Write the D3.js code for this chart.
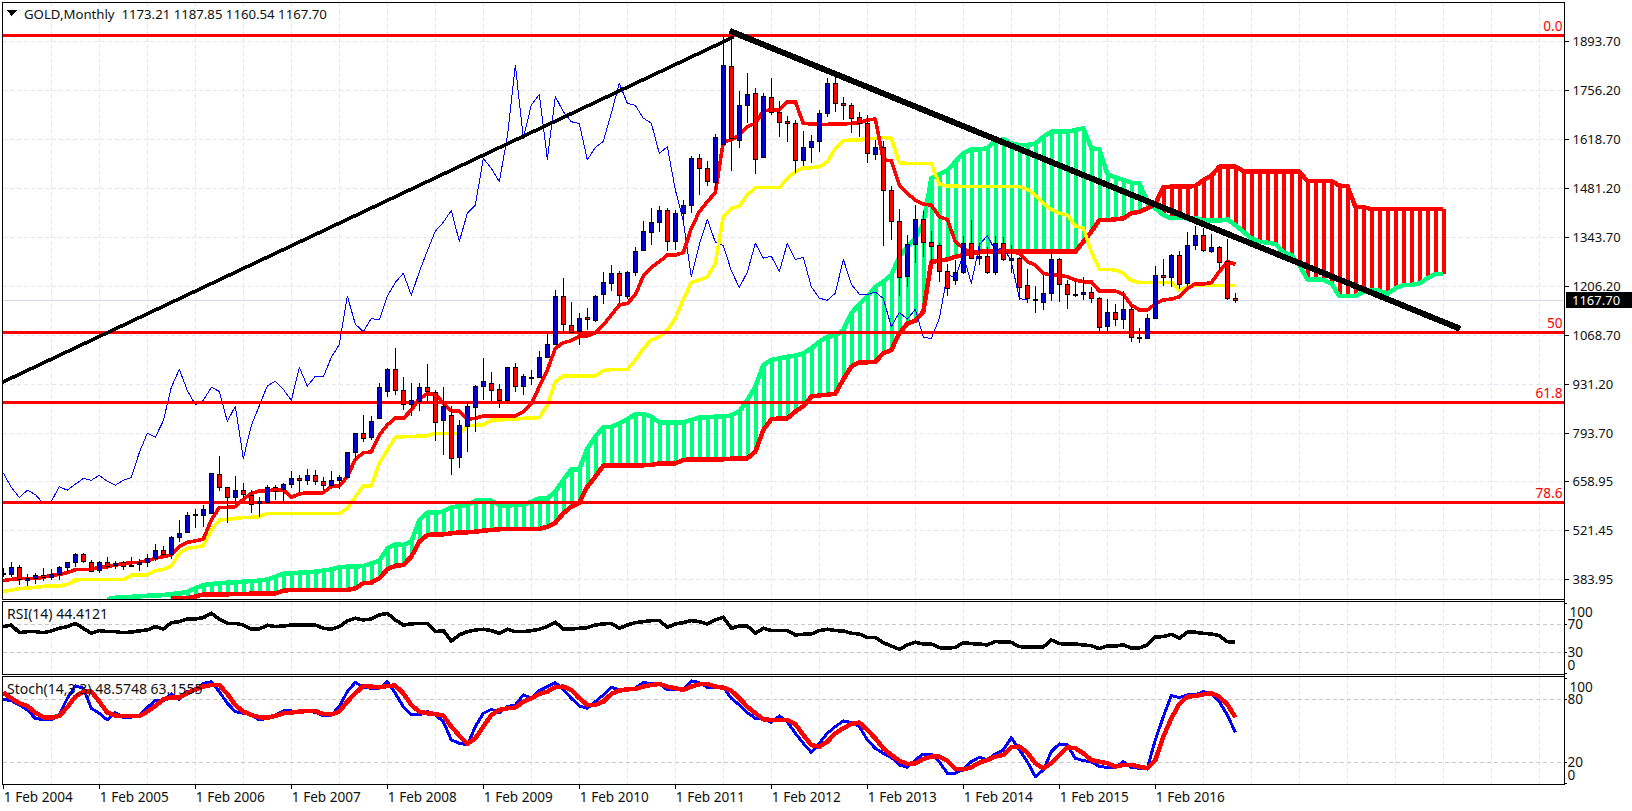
<!DOCTYPE html>
<html lang="en">
  <head>
    <meta charset="UTF-8" />
    <title>GOLD, Monthly</title>
    <script src="https://d3js.org/d3.v7.min.js"></script>
    <style>
      html,
      body {
        margin: 0;
        padding: 0;
        background: #fff;
        overflow: hidden;
      }

      text {
        font-family: "Noto Sans", Tahoma, sans-serif;
        font-size: 13.6px;
        fill: #111;
      }

      path,
      line,
      rect {
        shape-rendering: crispEdges;
      }
    </style>
  </head>
  <body>
    <svg id="chart" width="1632" height="811"></svg>

    <script>
      // Monthly bars, bar 0 = 1 Feb 2004
      const opens = [399,397,418,382,386,395,389,397,417,432,454,434,410,432,422,432,420,426,433,443,465,453,502,516,563,563,569,679,642,614,634,622,597,603,644,637,651,667,662,676,659,648,662,670,740,796,783,836,911,973,914,874,885,923,911,832,844,726,816,867,926,936,917,885,979,926,951,951,1007,1043,1179,1098,1079,1119,1112,1182,1215,1243,1181,1247,1308,1357,1386,1419,1332,1411,1433,1565,1537,1500,1606,1824,1618,1713,1748,1567,1737,1696,1669,1664,1559,1596,1613,1692,1776,1720,1714,1682,1664,1579,1598,1477,1389,1233,1324,1394,1330,1322,1250,1224,1245,1327,1284,1291,1247,1327,1281,1287,1209,1170,1163,1187,1282,1212,1184,1184,1189,1173,1093,1133,1114,1142,1063,1060,1116,1238,1231,1294,1214,1320,1349,1306,1317,1276,1173.21];
      const highs = [415,432,423,399,403,416,412,420,432,457,457,438,436,446,436,436,446,442,455,483,477,506,550,573,580,593,683,730,644,674,655,635,616,648,648,653,688,676,693,691,672,688,677,742,796,844,842,936,976,1032,951,934,934,988,915,923,869,831,881,928,1004,965,931,979,990,960,971,1025,1074,1196,1229,1162,1132,1145,1181,1247,1266,1248,1250,1316,1390,1425,1432,1425,1419,1448,1572,1577,1558,1634,1912,1920,1754,1806,1762,1748,1790,1726,1684,1673,1642,1631,1700,1790,1796,1737,1720,1696,1687,1617,1615,1488,1422,1350,1433,1418,1361,1328,1269,1280,1347,1392,1329,1316,1346,1344,1322,1289,1254,1207,1238,1308,1285,1224,1224,1231,1205,1175,1170,1157,1192,1149,1088,1129,1263,1282,1296,1305,1358,1376,1369,1352,1319,1338,1187.85];
      const lows = [391,391,368,365,371,380,382,382,405,419,429,408,403,412,412,410,418,408,419,436,449,442,490,513,528,532,569,633,541,595,607,569,558,601,607,599,639,630,649,649,635,637,638,667,715,770,775,835,897,901,859,842,855,878,773,734,678,697,740,798,887,883,864,878,911,901,929,948,1004,1043,1074,1074,1042,1084,1107,1157,1194,1156,1172,1235,1306,1322,1360,1306,1308,1381,1413,1463,1488,1477,1603,1530,1594,1664,1521,1565,1687,1626,1612,1525,1544,1553,1584,1680,1696,1672,1636,1626,1553,1561,1320,1336,1179,1205,1273,1289,1266,1219,1179,1210,1241,1282,1266,1241,1238,1278,1243,1168,1160,1130,1140,1166,1163,1142,1175,1168,1160,1076,1082,1095,1086,1051,1046,1057,1114,1207,1205,1198,1207,1308,1303,1301,1252,1168,1160.54];
      const closes = [402,418,384,387,395,389,398,418,432,454,434,410,432,422,429,420,424,433,443,465,453,502,513,564,566,580,682,642,614,634,622,597,603,644,634,651,667,662,676,659,648,662,670,740,794,783,829,923,973,914,874,886,923,911,827,870,723,816,871,927,940,917,886,979,926,954,952,1007,1043,1179,1100,1079,1116,1112,1179,1217,1243,1181,1247,1306,1361,1386,1419,1332,1411,1434,1565,1537,1500,1626,1827,1622,1715,1745,1563,1739,1696,1668,1663,1561,1596,1613,1692,1776,1720,1714,1678,1664,1579,1598,1477,1389,1233,1324,1394,1330,1320,1250,1203,1246,1327,1285,1291,1247,1327,1282,1287,1205,1173,1167,1187,1282,1212,1184,1183,1190,1172,1093,1133,1114,1142,1063,1060,1116,1238,1231,1294,1214,1322,1349,1306,1317,1276,1172,1167.7];

      // Ichimoku lines
      const tenkan = [380.2,384,385.8,385.8,385.8,389.6,395,398,402.7,411,412,412,417.6,419.5,424,428,430.7,431.7,436.4,443,447.6,453,476,488,492,497,550.5,586,586,587.9,608.5,625.3,631.9,632.8,634.7,634.7,614,623.5,627,627,627,645.9,645.9,672,720.7,739.4,741.3,789,817,836.7,835.8,859,892,904,904,877.9,857,856.4,833,835.8,842.4,842.4,842.4,842.4,842.4,854.5,876,924.7,971.4,1032,1048,1053.7,1066.8,1066.8,1076,1097.7,1125.8,1153.8,1158.5,1181.9,1235,1259.5,1275.4,1294,1294,1300.7,1369,1415.7,1443.7,1469,1612,1616.8,1630.8,1654,1663.6,1699,1701,1701,1724,1724,1663.5,1661.7,1660.7,1660.7,1661.7,1661.7,1663.5,1665,1672.9,1675.7,1560.6,1558.8,1490.5,1467,1448.4,1437,1434,1401.6,1394,1331.5,1312.8,1298.8,1300.6,1303.4,1303.4,1303.4,1303.4,1298.8,1275.4,1266,1242.6,1238,1238,1233,1224,1219,1219,1193,1193,1193,1183.7,1153.8,1139.8,1139.8,1156.6,1167.8,1170.6,1177,1200.6,1212.7,1212.7,1216.5,1247.3,1275.4,1268];
      const kijun = [350.3,354,357.8,359.7,361.5,364.3,365.3,365.3,370,382,384,384,384,384,384,384,396,396,396,408,412,421.4,457,471,473.8,478.5,522.4,550.5,552.4,555,558,558,559.8,569,569,569,569,569,569,569,569,569,569,583,616,645.9,646.8,709.5,746.9,782.5,784.4,784.4,786,787,793.7,793.7,793.7,793.7,816,816,818,831,831,833,833,835.8,836.7,837.7,873,938.7,954.6,954.6,954.6,954.6,954.6,969.6,973,973,973,999.5,1032,1055.6,1065,1083.7,1116.4,1170,1216.5,1224,1233,1270.7,1401.7,1425,1431.6,1462.5,1483,1483,1483,1483,1509,1528,1539,1539,1542,1556,1593.4,1614.9,1616.8,1616.8,1621.4,1621.4,1624.2,1621.4,1553,1551,1551,1551,1551,1492.4,1487.7,1487.7,1485.8,1485.8,1485.8,1485.8,1485.8,1485.8,1485.8,1485.8,1478,1462.4,1439,1422,1411,1406.3,1375.5,1369,1303.4,1253.9,1253.9,1252,1242.6,1222,1217.4,1217.4,1217.4,1217.4,1216.5,1195.9,1205,1209,1209,1209,1209,1209,1209];
      const chikou = [682,642,614,634,622,597,603,644,634,651,667,662,676,659,648,662,670,740,794,783,829,923,973,914,874,886,923,911,827,870,723,816,871,927,940,917,886,979,926,954,952,1007,1043,1179,1100,1079,1116,1112,1179,1217,1243,1181,1247,1306,1361,1386,1419,1332,1411,1434,1565,1537,1500,1626,1827,1622,1715,1745,1563,1739,1696,1668,1663,1561,1596,1613,1692,1776,1720,1714,1678,1664,1579,1598,1477,1389,1233,1324,1394,1330,1320,1250,1203,1246,1327,1285,1291,1247,1327,1282,1287,1205,1173,1167,1187,1282,1212,1184,1183,1190,1172,1093,1133,1114,1142,1063,1060,1116,1238,1231,1294,1214,1322,1349,1306,1317,1276,1172,1167.7];

      // Cloud spans start later and run 26 bars past the last candle
      const spanAFirstBar = 13;
      const spanA = [328.8,332.5,334.4,335,336,338,338,340,342.8,344.7,349.4,358.8,368,371,372.8,374.7,375.6,377.5,379.3,380.3,384,391.5,400,400.8,402.7,403.7,405.5,408.3,412,417.7,419.6,419.6,421.4,428.9,436.4,470.9,482.2,480.4,489.7,550.5,571,571,574,586,589.8,592.6,604.8,606.6,604.8,592.6,590.7,592.6,592.6,602,611.3,611.3,630,662.8,692.7,692.7,751.6,784.4,811.5,811.5,821.8,833,847.9,847.9,840.5,824.6,824.6,824.6,824.6,831,838.6,838.6,840.5,840.5,844.2,854.5,887.2,924.7,985.5,999.5,1004,1008.8,1011.6,1018,1032,1050.9,1064.9,1066.8,1083.7,1130.4,1156.6,1177,1205,1219,1238,1289.4,1317.5,1341,1383,1509,1521,1530.7,1556,1579.4,1590.6,1590.6,1593.4,1614.9,1618.6,1607,1602.7,1602.7,1607,1626,1640,1640,1640,1644.8,1649.5,1593.4,1590.6,1521,1512,1504.5,1497,1495,1443.7,1425,1406.3,1397,1398.8,1397,1397,1392,1390.4,1390.4,1394,1378,1359.6,1340.9,1331.5,1328.7,1325,1301.6,1294,1266,1225.8,1225.8,1224,1214.6,1179,1179,1179,1191,1195,1194,1184.7,1200.6,1210,1210,1214.6,1228.6,1240.8,1240.8];
      const spanBFirstBar = 21;
      const spanB = [330.7,331.6,331.6,335.4,341.9,341.9,341.9,341.9,342.9,342.9,343.8,343.8,343.8,344.7,352.2,354,354,354,354,354,354,354,354,358.8,372.8,374.7,386.8,412,422,424,447.7,489.7,508.5,510.3,510.3,513,515.9,515.9,517.8,520.6,522.5,524.4,525.3,525.3,525.3,525.3,525.3,531.8,543,569.3,588,599.2,644,672,703,703,703,703,703,704,704.9,709.5,709.5,709.5,718.9,720.8,720.8,720.8,720.8,720.8,722.6,723.6,723.6,742,803,833,835.8,835.8,854.5,870,897,900,902,905,945,980.8,993,993,994.8,1018,1027.5,1074,1102,1109.8,1135,1275,1278,1282,1289,1294,1300.6,1303.4,1303.4,1303.4,1303.4,1303.4,1303.4,1303.4,1303.4,1303.4,1303.4,1303.4,1303.4,1303.4,1331.5,1359.6,1392,1392,1394,1397,1411,1415.7,1425,1437,1484,1485.8,1485.8,1485.8,1487.7,1504.5,1515.8,1542,1542,1542,1529.8,1528,1528,1528,1528,1528,1528,1528,1501.7,1501.7,1501.7,1501.7,1488.6,1487.7,1429.7,1427.8,1423.2,1423.2,1423.2,1423.2,1423.2,1423.2,1423.2,1423.2,1423.2,1423.2];

      // Oscillators
      const rsi = [66.7,69,58,59.5,59.5,58,60.5,64.3,66.7,71.4,64.3,57.1,61,59.5,59.5,58,59,60.5,61.9,66.7,63.3,72.4,73.8,77.6,77.6,79.5,85.7,77.1,71.4,71.4,69,63.3,63.3,68.6,66.7,67.6,69,69,69,69,64.3,62.9,66.7,74.8,78.6,76.2,77.6,83.3,85.7,76.2,69,70.5,71.4,71.4,59.5,61,46.2,54.8,59.5,61.9,62.9,61,57.1,62.9,59.5,59.5,61,62.9,66.7,72.9,63.3,63.3,64.3,65.2,69,70.5,71.4,64.3,69,72.4,73.8,75.2,75.2,65.7,70.5,72.4,75.2,73.8,70.5,76.2,80,64.3,67.6,67.6,57.1,64.3,61,61,61,54.8,55.7,56.2,61,62.9,61,60.5,57.1,56.2,51,51,43.8,39,34.3,40.5,44.3,41.9,41.9,36.7,35.7,37.1,43.8,42.4,41.9,40.5,45.7,44.3,44.3,38.1,37.6,37.6,37.6,47.6,42.4,41.9,41.9,40.5,39.5,35.2,39,39,40.5,36.2,36.2,40.5,51.9,52.4,55.7,50,58.6,58.6,57.1,56.2,53.8,45.2,44.4];
      const stochK = [80,78.7,74.6,69.8,61.9,60.3,60.3,65.1,81,92.7,90.5,71.4,66.7,60.3,67.3,62.9,62.9,65.1,72.4,78.7,78.7,85.1,80,87.3,88.3,95.2,96.8,87.3,76.2,68.3,66.7,65.1,60.3,61.9,65.1,68.9,68.9,67.6,68.9,67.6,64.1,65.1,73,87.3,96.2,91.4,90.5,90.5,96.8,85.7,73,65.1,65.1,68.3,65.1,58.7,41.3,38.1,36.5,54,66.7,70.5,67.3,73,74.6,84.1,81,88.3,92.1,95.9,88.9,81,73.7,71.4,77.8,84.1,91.4,88.9,89.5,90.5,96.2,94.6,94.6,88.9,89.5,89.5,97.5,95.9,91.4,91.4,91.4,81,74.6,67.3,61.9,61,58.1,64.1,58.7,47.6,38.1,29.5,38.1,47.6,54,59.4,57.8,54,41.3,33.3,28.6,24.8,17.5,15.2,22.2,27.9,27.9,20.6,9.5,9.5,13.7,20.6,24.8,22.2,27.9,31.7,43.5,31.7,20.6,6.3,12.7,30.2,37.5,36.5,23.8,21.6,20.6,15.9,15.2,15.2,20.6,15.2,14.3,14.3,41.3,63.5,83.5,81.6,84.1,84.1,87.3,85.1,77.8,65.1,48.6];
      const stochD = [86.3,81,76.2,73.7,67.3,62.9,62.5,64.1,72.4,82.5,87.3,87.3,77.8,67.3,64.4,64.1,64.1,64.1,68.3,73.7,80,81.9,81.9,85.7,89.5,92.1,93.7,93.7,85.1,74.6,68.3,65.1,62.9,62.5,64.1,66.7,67.3,68.3,68.9,68.9,66,65.7,68.3,77.8,85.7,92.7,92.1,91.4,92.7,93,85.7,74.6,68.3,66.7,66,64.4,54,45.4,37.5,42.9,54,65.1,69.8,71.4,72.1,77.8,81,85.1,87.3,91.4,92.1,88.9,81,74.6,74.6,77.8,85.1,88.3,89.5,89.8,92.1,93.7,94.6,92.1,90.5,88.9,92.1,94.3,94.6,92.1,91.1,88.3,81,73,66.7,61,60.3,60.3,60.3,56.5,46,36.5,34.9,39.7,47.6,52.4,56.5,57.8,50.8,42.9,33.3,27,21.6,18.4,19,23.2,25.4,25.4,21.6,13.7,13.3,15.2,19.7,22.2,25.4,27,34.3,34.9,29.2,19,14.3,19,27,34.3,33.3,28.6,22.2,20.6,19,15.9,17.5,17.5,15.9,14.3,22.2,44.4,61.9,75.6,82.5,83.2,84.8,85.7,82.5,75.2,62.9];

      // Axis ticks and labels
      const priceTicks = [1893.7,1756.2,1618.7,1481.2,1343.7,1206.2,1068.7,931.2,793.7,658.95,521.45,383.95];
      const yearBars = [0,12,24,36,48,60,72,84,96,108,120,132,144];
      const yearLabels = ["1 Feb 2004","1 Feb 2005","1 Feb 2006","1 Feb 2007","1 Feb 2008","1 Feb 2009","1 Feb 2010","1 Feb 2011","1 Feb 2012","1 Feb 2013","1 Feb 2014","1 Feb 2015","1 Feb 2016"];
      const gridBars = d3.range(6, 235, 6);

      // Drawn objects: fibonacci levels and the two trend lines
      const fibLevels = [1910.5,1077,880.7,600];
      const fibLabels = ["0.0","50","61.8","78.6"];
      const trendUp = [[-0.4,934],[91.3,1906]];
      const trendDown = [[90.8,1923],[182.1,1087]];

      const lastPrice = 1167.7;
      const headerText = "GOLD,Monthly  1173.21 1187.85 1160.54 1167.70";
      const rsiText = "RSI(14) 44.4121";
      const stochText = "Stoch(14,3,3) 48.5748 63.1555";

      const GREEN = "#00ff7f";
      const RED = "#ff0000";
      const BLUE = "#0000ff";
      const CANDLE_BLUE = "#0000cd";
      const GRID = "#e4e4f4";
      const LEVEL = "#c8c8c8";

      const rightX = 1564.5;
      const leftX = 2.5;
      const panes = {
        main: { top: 2.5, bottom: 599.5 },
        rsi: { top: 601.5, bottom: 674.5 },
        stoch: { top: 676.5, bottom: 784.5 },
      };

      const x = d3.scaleLinear().domain([0, 154]).range([3.33, 1235.33]);
      const priceY = d3.scaleLinear().domain([327.4, 2004]).range([599.5, 2]);
      const rsiY = d3.scaleLinear().domain([0, 100]).range([673.3, 603.3]);
      const stochY = d3.scaleLinear().domain([0, 100]).range([783.3, 678.3]);

      const px = (bar) => Math.floor(x(bar)) + 0.5;
      const seriesOf = (values, firstBar = 0) =>
        values.map((v, i) => [i + firstBar, v]);

      const svg = d3.select("#chart");
      const defs = svg.append("defs");

      // One clipped group per pane
      function addPane(name) {
        const p = panes[name];
        defs
          .append("clipPath")
          .attr("id", "clip-" + name)
          .append("rect")
          .attr("x", leftX)
          .attr("y", p.top)
          .attr("width", rightX - leftX)
          .attr("height", p.bottom - p.top);
        return svg.append("g").attr("clip-path", `url(#clip-${name})`);
      }

      function drawVerticalGrid(g, name) {
        g.selectAll("line.vgrid")
          .data(gridBars)
          .join("line")
          .attr("class", "vgrid")
          .attr("x1", px)
          .attr("x2", px)
          .attr("y1", panes[name].top)
          .attr("y2", panes[name].bottom)
          .attr("stroke", GRID)
          .attr("stroke-dasharray", "4 3");
      }

      function drawHorizontalGrid(g, ticks, scale, color) {
        g.selectAll("line.hgrid")
          .data(ticks)
          .join("line")
          .attr("class", "hgrid")
          .attr("x1", leftX)
          .attr("x2", rightX)
          .attr("y1", (d) => Math.round(scale(d)) + 0.5)
          .attr("y2", (d) => Math.round(scale(d)) + 0.5)
          .attr("stroke", color)
          .attr("stroke-dasharray", "4 3");
      }

      function drawLine(g, points, scale, color, width) {
        const line = d3
          .line()
          .x((d) => x(d[0]))
          .y((d) => scale(d[1]));
        g.append("path")
          .attr("d", line(points))
          .attr("fill", "none")
          .attr("stroke", color)
          .attr("stroke-width", width)
          .attr("stroke-linejoin", "round");
      }

      function styleAxisText(g) {
        g.attr("font-family", null).attr("font-size", null);
        g.selectAll("path,line").attr("stroke", "#000");
        g.selectAll("text").attr("fill", "#111");
      }

      // Main pane
      const main = addPane("main");
      drawVerticalGrid(main, "main");
      drawHorizontalGrid(main, priceTicks, priceY, GRID);

      main
        .append("line")
        .attr("x1", leftX)
        .attr("x2", rightX)
        .attr("y1", Math.round(priceY(lastPrice)) + 0.5)
        .attr("y2", Math.round(priceY(lastPrice)) + 0.5)
        .attr("stroke", "#d8d8f0");

      // Cloud hatching: one stripe per bar between the two spans
      const cloudBars = d3.range(spanBFirstBar, spanBFirstBar + spanB.length);
      main
        .selectAll("line.hatch")
        .data(cloudBars)
        .join("line")
        .attr("class", "hatch")
        .attr("x1", px)
        .attr("x2", px)
        .attr("y1", (b) => priceY(spanA[b - spanAFirstBar]))
        .attr("y2", (b) => priceY(spanB[b - spanBFirstBar]))
        .attr("stroke", (b) =>
          spanA[b - spanAFirstBar] >= spanB[b - spanBFirstBar] ? GREEN : RED
        )
        .attr("stroke-width", 4);

      drawLine(main, seriesOf(spanA, spanAFirstBar), priceY, GREEN, 4.5);
      drawLine(main, seriesOf(spanB, spanBFirstBar), priceY, RED, 4.5);
      drawLine(main, seriesOf(chikou), priceY, BLUE, 1);
      drawLine(main, seriesOf(kijun), priceY, "#ffff00", 3.6);
      drawLine(main, seriesOf(tenkan), priceY, RED, 3.6);

      // Fibonacci levels and trend lines sit over the indicators
      main
        .selectAll("line.fib")
        .data(fibLevels)
        .join("line")
        .attr("class", "fib")
        .attr("x1", leftX)
        .attr("x2", rightX)
        .attr("y1", (d) => priceY(d))
        .attr("y2", (d) => priceY(d))
        .attr("stroke", RED)
        .attr("stroke-width", 3);

      drawLine(main, trendUp, priceY, "#000", 3.6);
      drawLine(main, trendDown, priceY, "#000", 6);

      main
        .selectAll("text.fib")
        .data(fibLevels)
        .join("text")
        .attr("class", "fib")
        .attr("x", rightX - 2)
        .attr("y", (d) => priceY(d) - 4)
        .attr("text-anchor", "end")
        .style("fill", RED)
        .text((d, i) => fibLabels[i]);

      // Candles on top of everything
      const bars = d3.range(opens.length);
      const candles = main.append("g");
      candles
        .selectAll("line")
        .data(bars)
        .join("line")
        .attr("x1", px)
        .attr("x2", px)
        .attr("y1", (i) => priceY(highs[i]))
        .attr("y2", (i) => priceY(lows[i]))
        .attr("stroke", "#000");
      candles
        .selectAll("rect")
        .data(bars)
        .join("rect")
        .attr("x", (i) => px(i) - 2)
        .attr("width", 4)
        .attr("y", (i) => Math.round(priceY(Math.max(opens[i], closes[i]))) + 0.5)
        .attr("height", (i) =>
          Math.max(1, Math.round(Math.abs(priceY(opens[i]) - priceY(closes[i]))))
        )
        .attr("fill", (i) => (closes[i] >= opens[i] ? CANDLE_BLUE : RED))
        .attr("stroke", "#000");

      // Header
      svg
        .append("path")
        .attr("d", d3.line()([[6.5, 10], [17, 10], [11.7, 16]]))
        .attr("fill", "#000");
      svg
        .append("text")
        .attr("x", 24)
        .attr("y", 19)
        .attr("xml:space", "preserve")
        .style("white-space", "pre")
        .style("font-size", "13.2px")
        .text(headerText);

      // RSI pane
      const rsiPane = addPane("rsi");
      drawVerticalGrid(rsiPane, "rsi");
      drawHorizontalGrid(rsiPane, [70, 30], rsiY, LEVEL);
      svg
        .append("text")
        .attr("x", 7)
        .attr("y", 619)
        .style("font-size", "14px")
        .text(rsiText);
      drawLine(rsiPane, seriesOf(rsi), rsiY, "#000", 3.6);

      // Stochastic pane
      const stochPane = addPane("stoch");
      drawVerticalGrid(stochPane, "stoch");
      drawHorizontalGrid(stochPane, [80, 20], stochY, LEVEL);
      svg
        .append("text")
        .attr("x", 7)
        .attr("y", 694)
        .style("font-size", "14px")
        .text(stochText);
      drawLine(stochPane, seriesOf(stochK), stochY, BLUE, 3);
      drawLine(stochPane, seriesOf(stochD), stochY, RED, 4.5);

      // Pane frames
      Object.values(panes).forEach((p) => {
        svg
          .append("rect")
          .attr("x", leftX)
          .attr("y", p.top)
          .attr("width", rightX - leftX)
          .attr("height", p.bottom - p.top)
          .attr("fill", "none")
          .attr("stroke", "#000");
      });

      // Price axis
      const priceAxis = svg
        .append("g")
        .attr("transform", `translate(${rightX},0)`)
        .call(
          d3
            .axisRight(priceY)
            .tickValues(priceTicks)
            .tickFormat(d3.format(".2f"))
            .tickSize(4)
            .tickPadding(4)
            .tickSizeOuter(0)
        );
      priceAxis.select(".domain").remove();
      styleAxisText(priceAxis);
      priceAxis.selectAll("text").style("font-size", "13px");

      // Last price tag
      svg
        .append("rect")
        .attr("x", 1566)
        .attr("y", priceY(lastPrice) - 8)
        .attr("width", 66)
        .attr("height", 16)
        .attr("fill", "#000");
      svg
        .append("text")
        .attr("x", 1572)
        .attr("y", priceY(lastPrice) + 5)
        .style("fill", "#fff")
        .style("font-size", "13px")
        .text(d3.format(".2f")(lastPrice));

      // Oscillator axes: the 100 and 0 labels are pushed inside the pane
      function oscillatorAxis(scale, ticks) {
        const g = svg
          .append("g")
          .attr("transform", `translate(${rightX},0)`)
          .call(
            d3
              .axisRight(scale)
              .tickValues(ticks)
              .tickSize(2)
              .tickPadding(2)
              .tickSizeOuter(0)
          );
        g.select(".domain").remove();
        styleAxisText(g);
        g.selectAll("text")
          .attr("dy", (d) => (d === 100 ? "1em" : d === 0 ? "-0.25em" : "0.32em"))
          .attr("x", (d) => (d === 100 ? 5 : 3));
      }
      oscillatorAxis(rsiY, [100, 70, 30, 0]);
      oscillatorAxis(stochY, [100, 80, 20, 0]);

      svg
        .append("line")
        .attr("x1", rightX)
        .attr("x2", rightX)
        .attr("y1", panes.main.top)
        .attr("y2", panes.stoch.bottom)
        .attr("stroke", "#000");

      // Time axis
      const timeAxis = svg
        .append("g")
        .attr("transform", `translate(0,${panes.stoch.bottom})`)
        .call(
          d3
            .axisBottom(x)
            .tickValues(yearBars)
            .tickFormat((d, i) => yearLabels[i])
            .tickSize(4)
            .tickPadding(3.5)
            .tickSizeOuter(0)
        );
      timeAxis.select(".domain").remove();
      styleAxisText(timeAxis);
      timeAxis.selectAll("text").attr("text-anchor", "start");
    </script>
  </body>
</html>
